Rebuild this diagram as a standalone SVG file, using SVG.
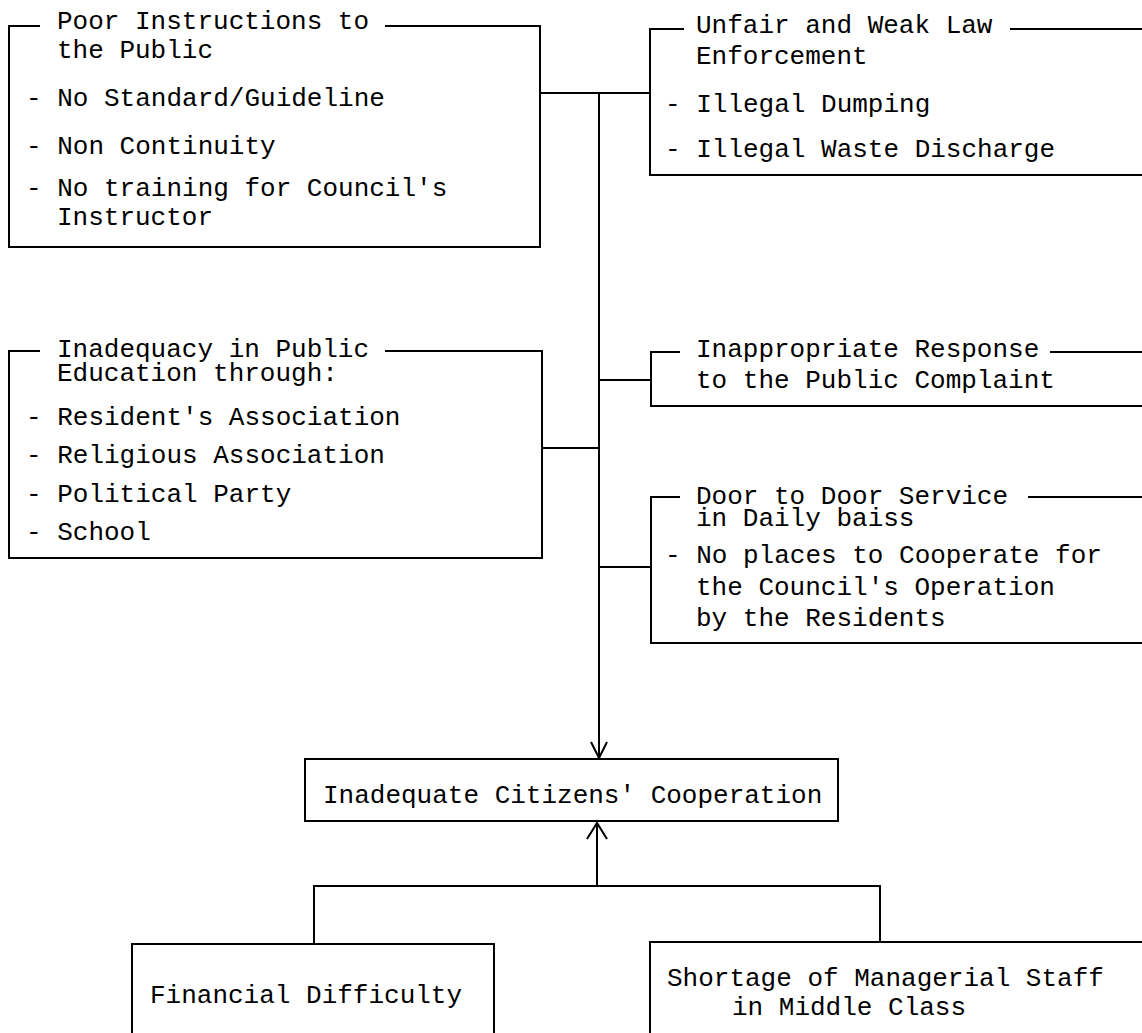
<svg xmlns="http://www.w3.org/2000/svg" width="1142" height="1033" viewBox="0 0 1142 1033">
<style>
.t{font-family:"Liberation Mono","DejaVu Sans Mono",monospace;font-size:26px;fill:#000}
.b{fill:none;stroke:#000;stroke-width:2}
.c{fill:none;stroke:#000;stroke-width:2}
</style>
<rect width="1142" height="1033" fill="#fff"/>
<g id="poor-instructions">
<path class="b" d="M40,26 H9 V247 H540 V26 H385"/>
<text class="t" x="57" y="29">Poor Instructions to</text>
<text class="t" x="57" y="58">the Public</text>
<text class="t" x="26" y="106">- No Standard/Guideline</text>
<text class="t" x="26" y="154">- Non Continuity</text>
<text class="t" x="26" y="196">- No training for Council's</text>
<text class="t" x="57" y="225">Instructor</text>
</g>
<g id="law-enforcement">
<path class="b" d="M684,29 H650 V175 H1142 M1010,29 H1142"/>
<text class="t" x="696" y="33">Unfair and Weak Law</text>
<text class="t" x="696" y="64">Enforcement</text>
<text class="t" x="665" y="112">- Illegal Dumping</text>
<text class="t" x="665" y="157">- Illegal Waste Discharge</text>
</g>
<g id="public-education">
<path class="b" d="M40,351 H9 V558 H542 V351 H385"/>
<text class="t" x="57" y="357">Inadequacy in Public</text>
<text class="t" x="57" y="381">Education through:</text>
<text class="t" x="26" y="425">- Resident's Association</text>
<text class="t" x="26" y="463">- Religious Association</text>
<text class="t" x="26" y="502">- Political Party</text>
<text class="t" x="26" y="540">- School</text>
</g>
<g id="complaint-response">
<path class="b" d="M680,352 H651 V406 H1142 M1050,352 H1142"/>
<text class="t" x="696" y="357">Inappropriate Response</text>
<text class="t" x="696" y="388">to the Public Complaint</text>
</g>
<g id="door-to-door">
<path class="b" d="M680,497 H651 V643 H1142 M1028,497 H1142"/>
<text class="t" x="696" y="504">Door to Door Service</text>
<text class="t" x="696" y="526">in Daily baiss</text>
<text class="t" x="665" y="563">- No places to Cooperate for</text>
<text class="t" x="696" y="595">the Council's Operation</text>
<text class="t" x="696" y="626">by the Residents</text>
</g>
<g id="citizens-cooperation">
<rect class="b" x="305" y="759" width="533" height="62"/>
<text class="t" x="323" y="803">Inadequate Citizens' Cooperation</text>
</g>
<g id="financial-difficulty">
<path class="b" d="M132,1040 V944 H494 V1040"/>
<text class="t" x="150" y="1003">Financial Difficulty</text>
</g>
<g id="managerial-staff">
<path class="b" d="M650,1040 V942 H1150"/>
<text class="t" x="667" y="986">Shortage of Managerial Staff</text>
<text class="t" x="732" y="1015">in Middle Class</text>
</g>
<g id="connectors">
<path class="c" d="M540,93 H650"/>
<path class="c" d="M599,93 V757" stroke-width="2.5"/>
<path class="c" d="M591,742 L599,758 L607,742"/>
<path class="c" d="M542,448 H599"/>
<path class="c" d="M599,380 H651"/>
<path class="c" d="M599,567 H651"/>
<path class="c" d="M597,886 V824"/>
<path class="c" d="M587,839 L597,823 L607,839"/>
<path class="c" d="M314,944 V886 H880 V942"/>
</g>
</svg>
